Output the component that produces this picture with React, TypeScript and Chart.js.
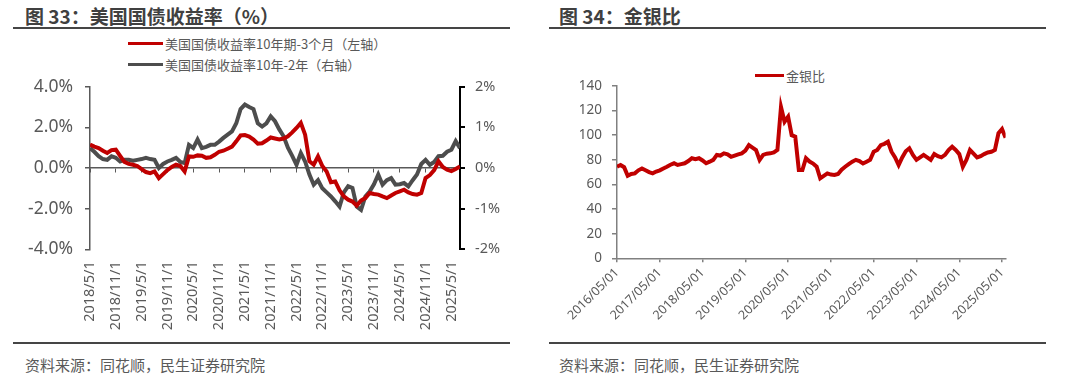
import React, { useEffect, useRef } from "react";
import { Chart, registerables } from "chart.js";

Chart.register(...registerables);

const NUM_FONT = '"Noto Sans", "Noto Sans CJK SC", sans-serif';
const CJK_FONT = '"Noto Sans CJK SC", "Noto Sans", sans-serif';
const TEXT_GRAY = "#595959";
const RED = "#C00000";
const DARK = "#4D4D4D";

// ---------- Chart 33: US Treasury spreads (monthly, starting 2018/05) ----------
const ustMonths = [
  0, 1, 2, 3, 4, 5, 6, 7, 8, 9, 10, 11, 12, 13, 14, 15, 16, 17, 18, 19, 20, 21, 22, 23, 24, 25, 26, 27, 28, 29,
  30, 31, 32, 33, 34, 35, 36, 37, 38, 39, 40, 41, 42, 43, 44, 45, 46, 47, 48, 49, 50, 51, 52, 53, 54, 55, 56, 57,
  58, 59, 60, 61, 62, 63, 64, 65, 66, 67, 68, 69, 70, 71, 72, 73, 74, 75, 76, 77, 78, 79, 80, 81, 82, 83, 84, 85, 86,
];
const spread10y3m = [
  1.15, 1.05, 0.98, 0.85, 0.74, 0.88, 0.9, 0.6, 0.3, 0.2,
  0.16, 0.1, -0.05, -0.2, -0.25, -0.17, -0.5, -0.3, -0.1, 0.05,
  0.16, 0.1, -0.17, 0.57, 0.55, 0.62, 0.6, 0.5, 0.53, 0.65,
  0.8, 0.85, 0.95, 1.05, 1.31, 1.6, 1.62, 1.55, 1.4, 1.2,
  1.22, 1.35, 1.5, 1.45, 1.4, 1.45, 1.56, 1.75, 1.97, 2.22,
  1.64, 0.33, 0.16, 0.57, 0.1, -0.17, -0.7, -0.66, -1.1, -1.4,
  -1.56, -1.65, -1.85, -1.6, -1.48, -1.23, -1.28, -1.31, -1.4, -1.48,
  -1.35, -1.23, -1.15, -1.07, -1.2, -1.28, -1.31, -1.23, -0.49, -0.35,
  -0.1, 0.33, 0.05, -0.08, -0.15, -0.05, 0.08,
];
const spread10y2y = [
  0.49, 0.4, 0.29, 0.22, 0.2, 0.29, 0.25, 0.16, 0.2, 0.2,
  0.18, 0.2, 0.22, 0.25, 0.22, 0.2, 0.0, 0.1, 0.16, 0.2,
  0.25, 0.15, 0.12, 0.57, 0.49, 0.7, 0.49, 0.52, 0.57, 0.57,
  0.65, 0.74, 0.82, 0.9, 1.1, 1.45, 1.56, 1.5, 1.45, 1.1,
  1.02, 1.1, 1.27, 1.15, 0.95, 0.78, 0.5, 0.3, 0.08, 0.37,
  0.16, -0.16, -0.41, -0.3, -0.5, -0.6, -0.7, -0.82, -0.95, -0.6,
  -0.45, -0.49, -0.95, -1.03, -0.7, -0.58, -0.4, -0.16, -0.41, -0.3,
  -0.25, -0.41, -0.4, -0.37, -0.45, -0.3, -0.16, 0.1, 0.2, 0.08,
  0.15, 0.29, 0.3, 0.4, 0.45, 0.66, 0.49,
];
const ustTickMonths = [0, 6, 12, 18, 24, 30, 36, 42, 48, 54, 60, 66, 72, 78, 84];
const ustTickLabels = [
  "2018/5/1", "2018/11/1", "2019/5/1", "2019/11/1", "2020/5/1", "2020/11/1", "2021/5/1", "2021/11/1",
  "2022/5/1", "2022/11/1", "2023/5/1", "2023/11/1", "2024/5/1", "2024/11/1", "2025/5/1",
];

// ---------- Chart 34: gold / silver ratio (monthly, starting 2016/05) ----------
const gsMonths = [
  0, 1, 2, 3, 4, 5, 6, 7, 8, 9, 10, 11, 12, 13, 14, 15, 16, 17, 18, 19, 20, 21, 22, 23, 24, 25, 26, 27, 28, 29,
  30, 31, 32, 33, 34, 35, 36, 37, 38, 39, 40, 41, 42, 43, 44, 45, 46, 47, 48, 49, 50, 51, 52, 53, 54, 55, 56, 57,
  58, 59, 60, 61, 62, 63, 64, 65, 66, 67, 68, 69, 70, 71, 72, 73, 74, 75, 76, 77, 78, 79, 80, 81, 82, 83, 84, 85,
  86, 87, 88, 89, 90, 91, 92, 93, 94, 95, 96, 97, 98, 99, 100, 101, 102, 103, 104, 105, 106, 107, 108, 109,
];
const goldSilverRatio = [
  74.4, 75.8, 74, 67, 68.5, 69, 71.5, 73, 71.5, 70,
  69, 70.5, 71.5, 73, 74.4, 76, 77.2, 75.8, 76.5, 77.2,
  79, 81.3, 80.5, 81.3, 79.5, 77.2, 78.5, 80, 84, 83.5,
  85.3, 84.5, 82.5, 83.5, 84.5, 85.3, 87.5, 92, 90, 88,
  79.9, 84, 85, 85.3, 86, 88, 123, 111, 115, 100,
  98.9, 71.7, 71.7, 81.3, 78.6, 77, 74.4, 65, 67, 69,
  68, 67.7, 68.5, 72, 74.4, 76.5, 78.5, 80, 79, 77,
  78.5, 80, 86.6, 88, 92, 93, 94.7, 86.6, 82, 75.8,
  82, 87, 89.4, 84, 80, 82, 84, 82, 80, 84.7,
  83, 82, 84, 88, 90.7, 88, 84.7, 74.4, 80, 88,
  85, 82, 83, 84.7, 86, 86.6, 88, 101.6, 105, 98,
];
const gsTickMonths = [0, 12, 24, 36, 48, 60, 72, 84, 96, 108];
const gsTickLabels = [
  "2016/05/01", "2017/05/01", "2018/05/01", "2019/05/01", "2020/05/01",
  "2021/05/01", "2022/05/01", "2023/05/01", "2024/05/01", "2025/05/01",
];

const setTicks = (months: number[]) => (scale: any) => {
  scale.ticks = months.map((v) => ({ value: v }));
};

const fixWidth = (w: number) => (s: any) => {
  s.width = w;
  s.paddingTop = 0;
  s.paddingBottom = 0;
};
const fixHeight = (h: number) => (s: any) => {
  s.height = h;
};

export default function App() {
  const leftRef = useRef<HTMLCanvasElement>(null);
  const rightRef = useRef<HTMLCanvasElement>(null);

  useEffect(() => {
    const c1 = new Chart(leftRef.current as HTMLCanvasElement, {
      type: "line",
      data: {
        datasets: [
          {
            label: "美国国债收益率10年期-3个月（左轴）",
            data: spread10y3m.map((v, i) => ({ x: ustMonths[i], y: v })),
            borderColor: RED,
            backgroundColor: RED,
            borderWidth: 4,
            pointRadius: 0,
            tension: 0,
            xAxisID: "x",
            yAxisID: "y",
          },
          {
            label: "美国国债收益率10年-2年（右轴）",
            data: spread10y2y.map((v, i) => ({ x: ustMonths[i], y: v })),
            borderColor: DARK,
            backgroundColor: DARK,
            borderWidth: 4,
            pointRadius: 0,
            tension: 0,
            xAxisID: "x",
            yAxisID: "y1",
          },
        ],
      },
      options: {
        responsive: false,
        animation: false,
        devicePixelRatio: 1,
        events: [],
        layout: { padding: { top: 16.7, left: 0, right: 0, bottom: 0 } },
        plugins: { legend: { display: false }, tooltip: { enabled: false } },
        scales: {
          x: {
            type: "linear",
            position: "bottom",
            min: 0,
            max: 86,
            afterBuildTicks: setTicks(ustTickMonths),
            grid: { display: false, drawTicks: false },
            border: { display: false },
            ticks: {
              autoSkip: false,
              minRotation: 90,
              maxRotation: 90,
              padding: 12,
              color: TEXT_GRAY,
              font: { size: 14.5, family: NUM_FONT },
              callback: (_v: any, i: number) => ustTickLabels[i],
            },
            afterFit: fixHeight(90.7),
          },
          x0: {
            type: "linear",
            position: { y: 0 } as any,
            min: 0,
            max: 86,
            afterBuildTicks: setTicks(ustTickMonths),
            grid: { drawOnChartArea: false, drawTicks: true, tickLength: 4, color: TEXT_GRAY, lineWidth: 1 },
            border: { color: TEXT_GRAY, width: 1.5 },
            ticks: { display: false },
          },
          y: {
            position: "left",
            min: -4,
            max: 4,
            ticks: {
              stepSize: 2,
              padding: 12,
              color: TEXT_GRAY,
              font: { size: 17.5, family: NUM_FONT },
              callback: (v: any) => Number(v).toFixed(1) + "%",
            },
            grid: { drawOnChartArea: false, tickLength: 5, color: TEXT_GRAY, lineWidth: 1.5 },
            border: { color: TEXT_GRAY, width: 1.5 },
            afterFit: fixWidth(90),
          },
          y1: {
            position: "right",
            min: -2,
            max: 2,
            ticks: {
              stepSize: 1,
              padding: 10,
              color: TEXT_GRAY,
              font: { size: 14.5, family: NUM_FONT },
              callback: (v: any) => Number(v).toFixed(0) + "%",
            },
            grid: { drawOnChartArea: false, tickLength: 5, color: "#000000", lineWidth: 2 },
            border: { color: "#000000", width: 2 },
            afterFit: fixWidth(74),
          },
        },
      },
    });

    const c2 = new Chart(rightRef.current as HTMLCanvasElement, {
      type: "line",
      data: {
        datasets: [
          {
            label: "金银比",
            data: goldSilverRatio.map((v, i) => ({ x: gsMonths[i], y: v })),
            borderColor: RED,
            backgroundColor: RED,
            borderWidth: 4,
            pointRadius: 0,
            tension: 0,
          },
        ],
      },
      options: {
        responsive: false,
        animation: false,
        devicePixelRatio: 1,
        events: [],
        layout: { padding: { top: 16, left: 0, right: 62.4, bottom: 0 } },
        plugins: { legend: { display: false }, tooltip: { enabled: false } },
        scales: {
          x: {
            type: "linear",
            min: 0,
            max: 109,
            afterBuildTicks: setTicks(gsTickMonths),
            grid: { drawOnChartArea: false, drawTicks: true, tickLength: 4, color: "#808080", lineWidth: 1.5 },
            border: { color: "#808080", width: 1.5 },
            ticks: {
              autoSkip: false,
              minRotation: 45,
              maxRotation: 45,
              padding: 3,
              color: TEXT_GRAY,
              font: { size: 12.5, family: NUM_FONT },
              callback: (_v: any, i: number) => gsTickLabels[i],
            },
            afterFit: fixHeight(81.7),
          },
          y: {
            min: 0,
            max: 140,
            ticks: {
              stepSize: 20,
              padding: 10,
              color: TEXT_GRAY,
              font: { size: 13.5, family: NUM_FONT },
            },
            grid: { drawOnChartArea: false, tickLength: 5, color: "#808080", lineWidth: 1.5 },
            border: { color: "#808080", width: 1.5 },
            afterFit: fixWidth(83),
          },
        },
      },
    });

    return () => {
      c1.destroy();
      c2.destroy();
    };
  }, []);

  const titleStyle: React.CSSProperties = {
    position: "absolute",
    top: 6,
    fontFamily: CJK_FONT,
    fontWeight: 700,
    fontSize: 19,
    lineHeight: "19px",
    color: "#404040",
    whiteSpace: "nowrap",
  };
  const footStyle: React.CSSProperties = {
    position: "absolute",
    top: 357,
    fontFamily: CJK_FONT,
    fontSize: 15,
    lineHeight: "15px",
    color: TEXT_GRAY,
    whiteSpace: "nowrap",
  };
  const rule = (left: number, top: number, width: number): React.CSSProperties => ({
    position: "absolute",
    left,
    top,
    width,
    height: 2,
    background: "#454545",
  });
  const legendItem = (
    left: number,
    centerY: number,
    sampleWidth: number,
    color: string,
    text: string
  ) => (
    <div
      style={{
        position: "absolute",
        left,
        top: centerY - 10,
        height: 20,
        display: "flex",
        alignItems: "center",
        whiteSpace: "nowrap",
        fontFamily: CJK_FONT,
        fontSize: 13,
        color: TEXT_GRAY,
      }}
    >
      <span style={{ display: "inline-block", width: sampleWidth, height: 3, background: color, marginRight: 2 }} />
      <span>{text}</span>
    </div>
  );

  return (
    <div
      style={{
        position: "absolute",
        left: 0,
        top: 0,
        width: 1068,
        height: 383,
        background: "#ffffff",
        overflow: "hidden",
      }}
    >
      <div style={{ ...titleStyle, left: 25 }}>图 33：美国国债收益率（%）</div>
      <div style={{ ...titleStyle, left: 559 }}>图 34：金银比</div>
      <div style={rule(13, 27, 497)} />
      <div style={rule(549, 27, 497)} />

      {legendItem(128, 43, 35, RED, "美国国债收益率10年期-3个月（左轴）")}
      {legendItem(128, 64, 35, DARK, "美国国债收益率10年-2年（右轴）")}
      {legendItem(755, 75, 29, RED, "金银比")}

      <canvas
        ref={leftRef}
        width={534}
        height={270}
        style={{ position: "absolute", left: 0, top: 70, width: 534, height: 270 }}
      />
      <canvas
        ref={rightRef}
        width={534}
        height={270}
        style={{ position: "absolute", left: 534, top: 70, width: 534, height: 270 }}
      />

      <div style={rule(13, 342, 497)} />
      <div style={rule(549, 342, 497)} />
      <div style={{ ...footStyle, left: 25 }}>资料来源：同花顺，民生证券研究院</div>
      <div style={{ ...footStyle, left: 559 }}>资料来源：同花顺，民生证券研究院</div>
    </div>
  );
}
